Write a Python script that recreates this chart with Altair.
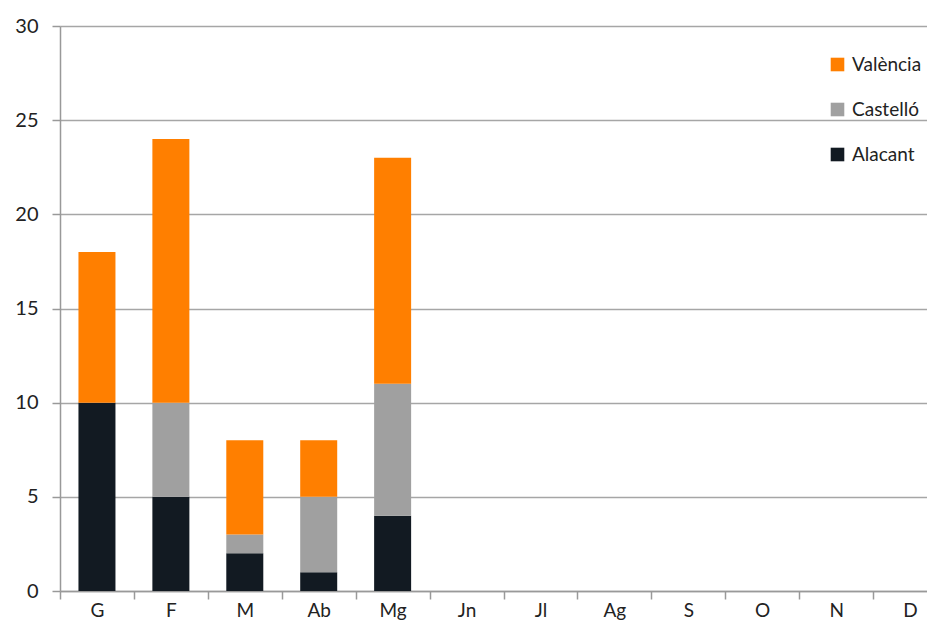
import altair as alt
import pandas as pd

months = ["G", "F", "M", "Ab", "Mg", "Jn", "Jl", "Ag", "S", "O", "N", "D"]
series = ["Alacant", "Castelló", "València"]
alacant = [10, 5, 2, 1, 4]
castello = [0, 5, 1, 4, 7]
valencia = [8, 14, 5, 3, 12]
colors = {"València": "#ff7f00", "Castelló": "#a0a0a0", "Alacant": "#121a22"}

rows = []
for i, m in enumerate(months[:5]):
    for k, (name, vals) in enumerate(zip(series, [alacant, castello, valencia])):
        rows.append({"mes": m, "serie": name, "valor": vals[i], "ordre": k})
df = pd.DataFrame(rows)

legend_order = ["València", "Castelló", "Alacant"]
FONT = "Lato"

chart = alt.Chart(df).mark_bar(size=37).encode(
    x=alt.X("mes:N", sort=months,
            scale=alt.Scale(domain=months, paddingInner=0, paddingOuter=0, range=[0, 887]),
            axis=alt.Axis(title=None, labelAngle=0, tickBand="extent", tickSize=8,
                          labelPadding=2, labelFontSize=19, labelColor="#222",
                          domainColor="#999", tickColor="#999", labelFont=FONT, grid=False)),
    y=alt.Y("valor:Q", stack="zero", scale=alt.Scale(domain=[0, 30]),
            axis=alt.Axis(title=None, values=[0, 5, 10, 15, 20, 25, 30], tickSize=8,
                          labelPadding=14, labelFontSize=20, labelColor="#222",
                          domainColor="#999", tickColor="#999", gridColor="#a6a6a6",
                          labelFont=FONT)),
    color=alt.Color("serie:N",
                    scale=alt.Scale(domain=legend_order, range=[colors[s] for s in legend_order]),
                    legend=alt.Legend(title=None, orient="none", legendX=768, legendY=29,
                                      symbolType="square", symbolSize=185, symbolStrokeWidth=0,
                                      labelFontSize=19, labelFont=FONT, labelColor="#222",
                                      rowPadding=25, labelOffset=5)),
    order=alt.Order("ordre:Q", sort="ascending"),
).properties(
    width=867, height=565,
    autosize=alt.AutoSizeParams(type="none"),
    padding={"left": 52, "top": 18, "right": 0, "bottom": 34},
).configure_view(stroke=None).configure_axis(gridWidth=1.5, domainWidth=1.5, tickWidth=1.5)

chart.save("out.html", embed_options={"renderer": "svg", "actions": False})
